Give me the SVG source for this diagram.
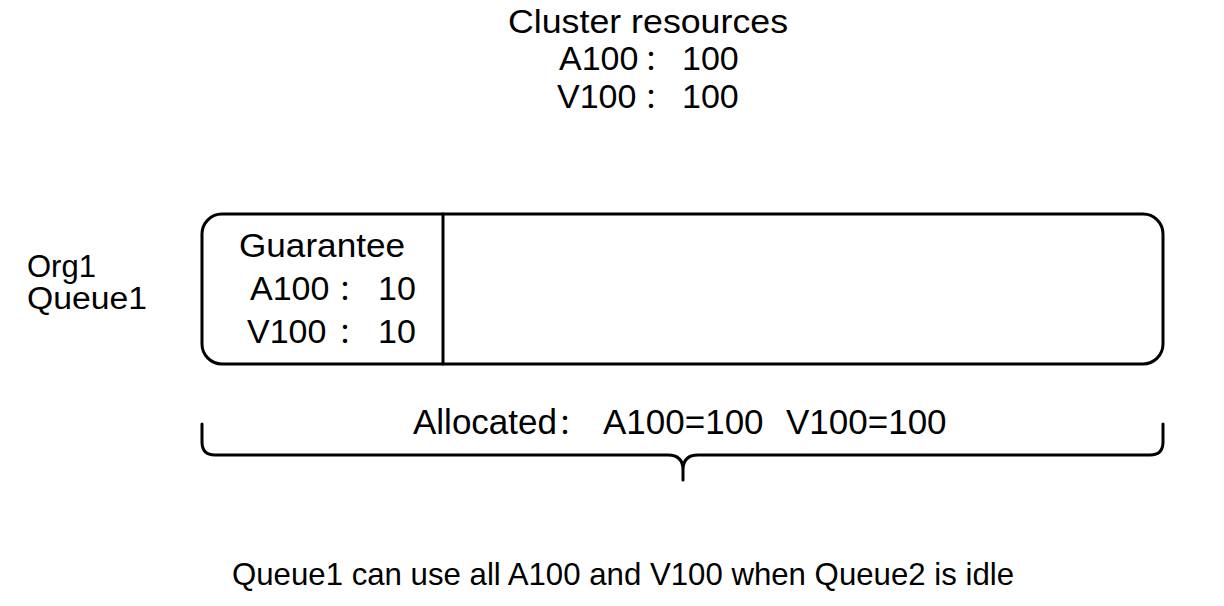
<svg xmlns="http://www.w3.org/2000/svg" width="1224" height="606" viewBox="0 0 1224 606">
<style>
.t{font-family:"Liberation Sans","Noto Sans CJK SC",sans-serif;font-size:34px;fill:#000}
.c{font-family:"Noto Sans CJK SC","Noto Sans CJK JP",sans-serif;font-size:28px}
.s{fill:none;stroke:#000;stroke-width:3;stroke-linecap:round;stroke-linejoin:round}
</style>
<rect width="1224" height="606" fill="#fff"/>
<g id="cluster">
<text class="t" x="508" y="33" textLength="280" lengthAdjust="spacingAndGlyphs">Cluster resources</text>
<text class="t" y="70"><tspan x="559">A100</tspan><tspan class="c" x="644">：</tspan><tspan x="682">100</tspan></text>
<text class="t" y="108"><tspan x="557">V100</tspan><tspan class="c" x="644">：</tspan><tspan x="682">100</tspan></text>
</g>
<g id="org-label">
<text class="t" x="27" y="277" style="font-size:31px">Org1</text>
<text class="t" x="27" y="309" style="font-size:31px" textLength="120" lengthAdjust="spacingAndGlyphs">Queue1</text>
</g>
<g id="queue1">
<rect class="s" x="202" y="214" width="961" height="150" rx="20" ry="20"/>
<line class="s" x1="443" y1="214" x2="443" y2="364"/>
</g>
<g id="guarantee">
<text class="t" x="239" y="257" textLength="166" lengthAdjust="spacingAndGlyphs">Guarantee</text>
<text class="t" y="300"><tspan x="250">A100</tspan><tspan class="c" x="338">：</tspan><tspan x="378">10</tspan></text>
<text class="t" y="343"><tspan x="247">V100</tspan><tspan class="c" x="338">：</tspan><tspan x="378">10</tspan></text>
</g>
<g id="connectors">
<path class="s" d="M202,424 L202,442 Q202,455 215,455 L668,455 Q683,455 683,470 L683,480 M683,470 Q683,455 698,455 L1150,455 Q1163,455 1163,442 L1163,424"/>
</g>
<g id="allocated">
<text class="t" y="434" style="font-size:35px"><tspan x="413">Allocated</tspan><tspan class="c" x="558">：</tspan><tspan x="603">A100=100</tspan><tspan x="786">V100=100</tspan></text>
</g>
<g id="note">
<text class="t" x="232" y="585" style="font-size:32px" textLength="782" lengthAdjust="spacingAndGlyphs">Queue1 can use all A100 and V100 when Queue2 is idle</text>
</g>
</svg>
